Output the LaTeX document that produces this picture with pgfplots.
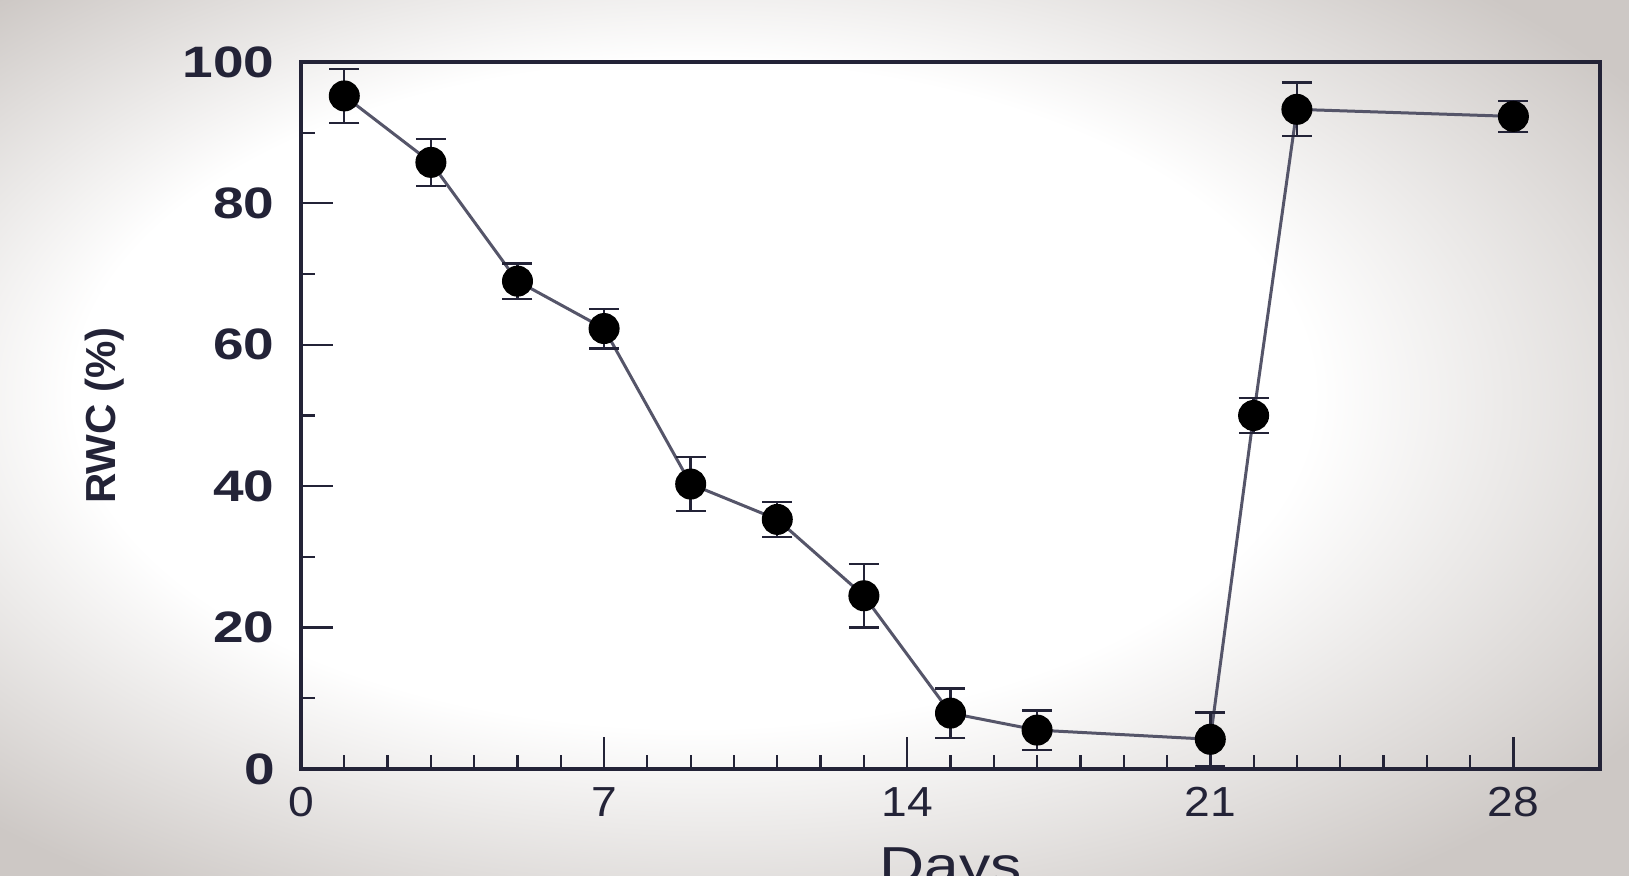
\documentclass[border=0pt]{standalone}
\usepackage{fontspec}
\setmainfont{Liberation Sans}
\newfontfamily\ytfont[FakeStretch=1.25]{Liberation Sans}
\newfontfamily\xtfont[FakeStretch=1.1]{Liberation Sans}
\newfontfamily\labfont[FakeStretch=1.2]{Liberation Sans}
\usepackage{pgfplots}
\pgfplotsset{compat=1.18}
\definecolor{axcol}{RGB}{35,35,55}
\definecolor{lncol}{RGB}{85,85,105}
\definecolor{bgedge}{RGB}{205,200,197}
\pgfdeclareradialshading{photobg}{\pgfpoint{-6bp}{4bp}}{color(0bp)=(white); color(19bp)=(white); color(33bp)=(bgedge); color(50bp)=(bgedge)}
\begin{document}
\begin{tikzpicture}
\useasboundingbox (-150.5pt,-53.5pt) rectangle (664pt,384.5pt);
\shade[shading=photobg] (-150.5pt,-53.5pt) rectangle (664pt,384.5pt);
\begin{axis}[
  at={(0,0)}, anchor=south west,
  scale only axis, width=649.5pt, height=353.5pt,
  xmin=0, xmax=30, ymin=0, ymax=100,
  xtick={0,7,14,21,28}, minor x tick num=6,
  ytick={0,20,...,100}, minor y tick num=1,
  tick pos=left, tick align=inside,
  major tick length=16pt, minor tick length=7pt,
  axis line style={axcol, line width=1.6pt},
  every tick/.style={axcol, line width=1.1pt},
  /pgf/number format/assume math mode=true,
  yticklabel style={font=\ytfont\bfseries\fontsize{22}{24}\selectfont, text=axcol, inner sep=0pt, anchor=east, xshift=-13pt},
  xticklabel style={font=\xtfont\fontsize{21}{23}\selectfont, text=axcol, inner sep=0pt, anchor=north, yshift=-9pt},
  xlabel={Days},
  xlabel style={font=\labfont\fontsize{26}{28}\selectfont, text=axcol, inner sep=0pt, anchor=north, yshift=-15pt},
  ylabel={RWC (\%)},
  ylabel style={font=\bfseries\fontsize{21}{23}\selectfont, text=axcol, at={(axis description cs:0,0.5)}, anchor=center, yshift=98pt},
  clip=false,
]
\addplot[lncol, line width=1.5pt, mark=*, mark size=7pt,
  mark options={fill=black, draw=black, solid},
  error bars/.cd, y dir=both, y explicit,
  error bar style={axcol, line width=1.2pt},
  error mark options={rotate=90, mark size=7.5pt, line width=1.2pt, axcol}]
table[x=x, y=y, y error=e] {
x  y     e
1  95.2  3.8
3  85.8  3.3
5  69.0  2.5
7  62.3  2.8
9  40.3  3.8
11 35.3  2.5
13 24.5  4.5
15 7.9   3.5
17 5.5   2.8
21 4.2   3.8
22 50.0  2.5
23 93.3  3.8
28 92.3  2.2
};
\end{axis}
\end{tikzpicture}
\end{document}
